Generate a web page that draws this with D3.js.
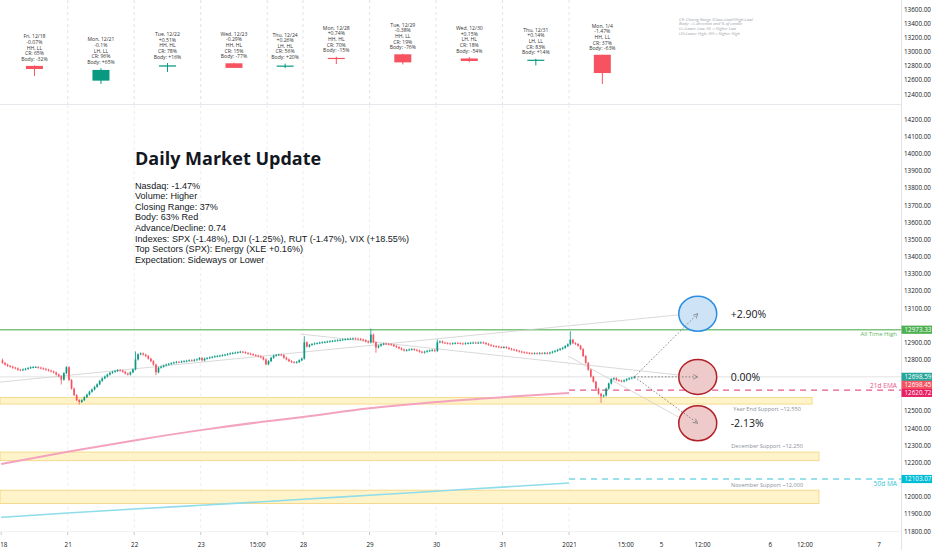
<!DOCTYPE html>
<html><head><meta charset="utf-8">
<script src="https://cdn.jsdelivr.net/npm/d3@7"></script>
<style>
body{margin:0;background:#fff;overflow:hidden}
svg{display:block;font-family:'Open Sans','DejaVu Sans',sans-serif}
</style>
</head><body>
<svg id="c" width="932" height="550"></svg>
<script>
// ---------------- DATA ----------------
const dayNames   = ["Fri, 12/18","Mon, 12/21","Tue, 12/22","Wed, 12/23","Thu, 12/24","Mon, 12/28","Tue, 12/29","Wed, 12/30","Thu, 12/31","Mon, 1/4"];
const dayPct     = ["-0.07%","-0.1%","+0.51%","-0.29%","+0.26%","+0.74%","-0.38%","+0.15%","+0.14%","-1.47%"];
const dayHL      = ["HH, LL","LH, LL","HH, HL","HH, HL","LH, HL","HH, HL","HH, LL","LH, HL","LH, LL","HH, LL"];
const dayCR      = ["65%","96%","78%","15%","56%","70%","19%","18%","83%","37%"];
const dayBody    = ["-32%","+65%","+16%","-77%","+20%","-15%","-76%","-54%","+14%","-63%"];
const dayOpen    = [12800,12590,12790,12837,12791,12914,12965,12906,12877,12958.5];
const dayHigh    = [12808,12766,12841,12845,12833,12930,12973.33,12924,12902,12958.7];
const dayLow     = [12658,12543,12714,12771,12767,12827,12821,12857,12807,12543.2];
const dayClose   = [12755.6,12742.5,12807.9,12771.6,12804.7,12899.4,12850.2,12870,12888.3,12698.45];
const dayStart   = [0,26,52,78,104,118,144,170,196,222];
const dayBars    = [26,26,26,26,14,26,26,26,26,26];

// 15-minute closes, one array per session
const c1218 = [12780,12770,12762,12758,12752,12748,12740,12738,12742,12745,12750,12754,12756,12756,12752,12748,12745,12740,12735,12730,12724,12712,12702,12682,12720,12755];
const c1221 = [12680,12630,12592,12563,12552,12563,12580,12595,12612,12625,12640,12655,12675,12690,12700,12712,12722,12728,12732,12738,12735,12728,12718,12712,12725,12742];
const c1222 = [12800,12830,12835,12828,12820,12805,12790,12770,12725,12752,12758,12765,12770,12774,12778,12782,12786,12785,12788,12790,12792,12795,12793,12798,12800,12808];
const c1223 = [12795,12805,12808,12812,12815,12818,12820,12822,12825,12828,12832,12835,12838,12840,12842,12845,12842,12838,12834,12830,12826,12822,12818,12812,12800,12772];
const c1224 = [12790,12810,12822,12826,12828,12825,12810,12800,12790,12785,12782,12785,12795,12805];
const c1228 = [12900,12875,12885,12890,12893,12895,12898,12900,12902,12904,12906,12908,12910,12912,12914,12916,12918,12920,12921,12922,12921,12920,12916,12912,12905,12899];
const c1229 = [12945,12900,12870,12880,12888,12892,12890,12888,12885,12878,12872,12865,12858,12852,12855,12858,12860,12856,12852,12845,12840,12845,12850,12852,12855,12850];
const c1230 = [12900,12905,12898,12895,12893,12892,12894,12896,12895,12893,12892,12894,12895,12897,12898,12896,12898,12899,12896,12890,12885,12880,12877,12875,12872,12870];
const c1231 = [12872,12868,12862,12858,12855,12850,12846,12842,12840,12838,12836,12835,12836,12835,12837,12836,12838,12835,12840,12845,12850,12856,12862,12868,12878,12888];
const c0104 = [12915,12895,12890,12880,12860,12820,12780,12740,12700,12670,12630,12600,12585,12590,12630,12660,12685,12690,12680,12676,12672,12678,12685,12690,12694,12698.59];
const firstOpen = 12795;
const wickHigh = {0:12800, 52:12841, 118:12930, 144:12973.33, 170:12910, 222:12958.7};
const wickLow  = {23:12660, 30:12543, 60:12714, 146:12845, 234:12553};

// moving averages sampled at each session start (bar index) up to 2021 open
const maIdx   = [0,26,52,78,104,118,144,170,196,222];
const ema21   = [12190,12262,12328,12388,12440,12465,12515,12552,12580,12605];
const ma50    = [11880,11905,11928,11950,11972,11985,12008,12032,12056,12080];
const ema21Last = 12620.72, ma50Last = 12103.07, athValue = 12973.33;

// time-axis labels (bar index -> label)
const timeTickIdx    = [0.8,26,52,78,100,118,144,170,196,222,244,258,274,300.5,314,343];
const timeTickLabels = ["18","21","22","23","15:00","28","29","30","31","2021","15:00","5","12:00","6","12:00","7"];

// support zones
const zoneLow   = [12540,12210,11960];
const zoneHigh  = [12579,12260,12038];
const zoneEnd   = [317,319.7,319.7];
const zoneLabel = ["Year End Support ~12,550","December Support ~12,250","November Support ~12,000"];

// scenarios
const scenPct = [0.0290, 0, -0.0213];
const scenLbl = ["+2.90%","0.00%","-2.13%"];
const scenIdx = 272.3;

const titleText = "Daily Market Update";
const bodyLines = ["Nasdaq: -1.47%","Volume: Higher","Closing Range: 37%","Body: 63% Red","Advance/Decline: 0.74",
  "Indexes: SPX (-1.48%), DJI (-1.25%), RUT (-1.47%), VIX (+18.55%)","Top Sectors (SPX): Energy (XLE +0.16%)","Expectation: Sideways or Lower"];
const legendLines = ["CR: Closing Range (Close-Low)/(High-Low)","Body: +/- direction and % of candle","LL=Lower Low, HL = Higher Low","LH=Lower High, HH = Higher High"];

// ---------------- DRAW ----------------
const W = 932, H = 550, AX = 901;
const UP = "#089981", DN = "#f7525f";
const svg = d3.select("#c");
const closes = [].concat(c1218,c1221,c1222,c1223,c1224,c1228,c1229,c1230,c1231,c0104);
const bars = closes.map((c,i)=>{
  const o = i===0 ? firstOpen : closes[i-1];
  return {i, o, c, h: wickHigh[i]!==undefined ? wickHigh[i] : Math.max(o,c), l: wickLow[i]!==undefined ? wickLow[i] : Math.min(o,c)};
});

const x = d3.scaleLinear().domain([0,343]).range([1.2, 1.2+2.558*343]);
const yM = d3.scaleLinear().domain([11800,14200]).range([531,119.3]);
const yT = d3.scaleLinear().domain([12400,13600]).range([94,9.7]);
const bw = x(1)-x(0);

const defs = svg.append("defs");
defs.append("clipPath").attr("id","cm").append("rect").attr("x",0).attr("y",105).attr("width",AX).attr("height",426);
defs.append("clipPath").attr("id","ct").append("rect").attr("x",0).attr("y",0).attr("width",AX).attr("height",104);
defs.append("marker").attr("id","arr").attr("viewBox","0 0 8 8").attr("refX",7).attr("refY",4)
  .attr("markerWidth",6).attr("markerHeight",6).attr("orient","auto")
  .append("path").attr("d","M0,0.5 L7,4 L0,7.5").attr("fill","none").attr("stroke","#777").attr("stroke-width",1);

svg.append("line").attr("x1",0).attr("x2",AX).attr("y1",104.5).attr("y2",104.5).attr("stroke","#e6e8ee");
svg.append("line").attr("x1",AX+0.5).attr("x2",AX+0.5).attr("y1",0).attr("y2",H).attr("stroke","#e0e3eb");
svg.append("line").attr("x1",0).attr("x2",AX).attr("y1",531.5).attr("y2",531.5).attr("stroke","#f0f2f5");

const topG = svg.append("g").attr("clip-path","url(#ct)");
const mainG = svg.append("g").attr("clip-path","url(#cm)");
dayStart.slice(1).forEach(s=>{
  topG.append("line").attr("x1",x(s)).attr("x2",x(s)).attr("y1",0).attr("y2",104).attr("stroke","#dcdcdc").attr("stroke-dasharray","3,3").attr("stroke-width",0.8);
  mainG.append("line").attr("x1",x(s)).attr("x2",x(s)).attr("y1",105).attr("y2",531).attr("stroke","#e8e8e8").attr("stroke-dasharray","3,3").attr("stroke-width",0.8);
});

// ---- top panel daily candles ----
dayNames.forEach((n,k)=>{
  const cx = x(dayStart[k] + dayBars[k]/2);
  const col = dayClose[k] >= dayOpen[k] ? UP : DN;
  topG.append("line").attr("x1",cx).attr("x2",cx).attr("y1",yT(dayHigh[k])).attr("y2",yT(dayLow[k])).attr("stroke",col).attr("stroke-width",1);
  const yb = yT(Math.max(dayOpen[k],dayClose[k])), ye = yT(Math.min(dayOpen[k],dayClose[k]));
  topG.append("rect").attr("x",cx-8.5).attr("y",yb).attr("width",17).attr("height",Math.max(1.2,ye-yb)).attr("fill",col);
  const lines = [n, dayPct[k], dayHL[k], "CR: "+dayCR[k], "Body: "+dayBody[k]];
  const base = yT(dayHigh[k]) - 4.5;
  lines.forEach((t,j)=>{
    topG.append("text").attr("x",cx).attr("y",base-(4-j)*5.6).attr("text-anchor","middle")
      .attr("font-size",5.1).attr("fill","#333").text(t);
  });
});
legendLines.forEach((t,j)=>{
  svg.append("text").attr("x",679).attr("y",20.5+j*4.7).attr("font-size",4.1).attr("font-style","italic")
    .attr("fill","#9aa0a8").text(t);
});

// ---- main panel ----
zoneLow.forEach((lo,k)=>{
  mainG.append("rect").attr("x",0).attr("y",yM(zoneHigh[k])).attr("width",x(zoneEnd[k])).attr("height",yM(lo)-yM(zoneHigh[k]))
    .attr("fill","#fff4c9").attr("stroke","#f3d27a").attr("stroke-width",0.8);
});
mainG.append("text").attr("x",x(299.4)).attr("y",yM(zoneLow[0])+7).attr("text-anchor","middle").attr("font-size",5.6).attr("fill","#8a8f98").text(zoneLabel[0]);
mainG.append("text").attr("x",x(299.4)).attr("y",yM(zoneHigh[1])-4).attr("text-anchor","middle").attr("font-size",5.6).attr("fill","#8a8f98").text(zoneLabel[1]);
mainG.append("text").attr("x",x(299.4)).attr("y",yM(zoneHigh[2])-3).attr("text-anchor","middle").attr("font-size",5.6).attr("fill","#8a8f98").text(zoneLabel[2]);

mainG.append("line").attr("x1",0).attr("x2",AX).attr("y1",yM(athValue)).attr("y2",yM(athValue)).attr("stroke","#7cc47f").attr("stroke-width",1.3);
mainG.append("text").attr("x",897).attr("y",yM(athValue)+6).attr("text-anchor","end").attr("font-size",6).attr("fill","#5cb85f").text("All Time High");

const last = closes[closes.length-1];
mainG.append("line").attr("x1",0).attr("x2",AX).attr("y1",yM(last)).attr("y2",yM(last)).attr("stroke","#dcdcdc").attr("stroke-width",0.8);

const lineGen = d3.line().x(d=>x(d[0])).y(d=>yM(d[1])).curve(d3.curveMonotoneX);
mainG.append("path").attr("d",lineGen(maIdx.map((v,i)=>[v,ema21[i]]))).attr("fill","none").attr("stroke","#f3a3bd").attr("stroke-width",2);
mainG.append("path").attr("d",lineGen(maIdx.map((v,i)=>[v,ma50[i]]))).attr("fill","none").attr("stroke","#8fdcea").attr("stroke-width",1.6);
mainG.append("line").attr("x1",x(222)).attr("x2",AX).attr("y1",yM(ema21Last)).attr("y2",yM(ema21Last)).attr("stroke","#e8578a").attr("stroke-width",1.2).attr("stroke-dasharray","6,5");
mainG.append("line").attr("x1",x(222)).attr("x2",AX).attr("y1",yM(ma50Last)).attr("y2",yM(ma50Last)).attr("stroke","#33c3d6").attr("stroke-width",1.2).attr("stroke-dasharray","6,5");
mainG.append("text").attr("x",897).attr("y",yM(ema21Last)-2).attr("text-anchor","end").attr("font-size",6.6).attr("fill","#e8578a").text("21d EMA");
mainG.append("text").attr("x",897).attr("y",yM(ma50Last)+7).attr("text-anchor","end").attr("font-size",6.6).attr("fill","#33c3d6").text("50d MA");

const tl = [[-0.5,12668,265,13060],[117,12948,272,12698],[221.6,12820,264.6,12466]];
tl.forEach(t=>mainG.append("line").attr("x1",x(t[0])).attr("y1",yM(t[1])).attr("x2",x(t[2])).attr("y2",yM(t[3]))
  .attr("stroke","#cfcfcf").attr("stroke-width",0.8));

const cg = mainG.append("g");
bars.forEach(b=>{
  const cx = x(b.i+0.5), col = b.c>=b.o?UP:DN;
  cg.append("line").attr("x1",cx).attr("x2",cx).attr("y1",yM(b.h)-1).attr("y2",yM(b.l)+1).attr("stroke",col).attr("stroke-width",0.8);
  const y1 = yM(Math.max(b.o,b.c)), y2 = yM(Math.min(b.o,b.c));
  cg.append("rect").attr("x",cx-bw*0.33).attr("y",y1).attr("width",bw*0.66).attr("height",Math.max(0.8,y2-y1)).attr("fill",col);
});

const x0 = x(closes.length-0.5), y0 = yM(last);
scenPct.forEach((p,k)=>{
  const v = dayClose[9]*(1+p);
  const cx = x(scenIdx), cy = yM(v);
  mainG.append("ellipse").attr("cx",cx).attr("cy",cy).attr("rx",19).attr("ry",17.5)
    .attr("fill",k===0?"#cfe3f7":"#efcaca").attr("stroke",k===0?"#2d8fe3":"#b22026").attr("stroke-width",1.5);
  mainG.append("line").attr("x1",x0).attr("y1",y0).attr("x2",cx).attr("y2",cy)
    .attr("stroke","#7a7a7a").attr("stroke-width",0.9).attr("stroke-dasharray","1.6,1.8").attr("marker-end","url(#arr)");
  mainG.append("text").attr("x",cx+33).attr("y",cy+3.8).attr("font-size",10.5).attr("fill","#131722").text(scenLbl[k]);
});

svg.append("text").attr("x",135).attr("y",164.5).attr("font-size",18).attr("font-weight","bold").attr("fill","#131722").text(titleText);
bodyLines.forEach((t,j)=>svg.append("text").attr("x",135).attr("y",188.5+j*10.6).attr("font-size",9.1)
  .attr("font-family","'Liberation Sans',Arial,sans-serif").attr("fill","#131722").text(t));

// ---- price tags (computed first so hidden axis labels can be skipped) ----
const fmt = d3.format(".2f");
const tags = [[athValue,"#4caf50"],[last,"#26a69a"],[dayClose[9],"#f7525f"],[ema21Last,"#e91e63"],[ma50Last,"#00bcd4"]];
let prevY = -100;
const tagPos = tags.map(t=>({v:t[0],c:t[1],y:yM(t[0])})).sort((a,b)=>a.y-b.y).map(t=>{
  const yy = Math.max(t.y, prevY+8); prevY = yy; return Object.assign(t,{yy});
});

// ---- price axes ----
const mainTicks = d3.range(11800,14201,100).filter(v=>tagPos.every(t=>Math.abs(yM(v)-t.yy)>7));
const axM = svg.append("g").attr("transform",`translate(${AX},0)`)
  .call(d3.axisRight(yM).tickValues(mainTicks).tickSize(0).tickPadding(3).tickFormat(fmt));
const axT = svg.append("g").attr("transform",`translate(${AX},0)`)
  .call(d3.axisRight(yT).tickValues(d3.range(12400,13601,200)).tickSize(0).tickPadding(3).tickFormat(fmt));
[axM,axT].forEach(a=>{a.select(".domain").remove(); a.selectAll("text").attr("font-size",6.3).attr("fill","#131722").attr("font-family","'Open Sans',sans-serif");});

tagPos.forEach(t=>{
  svg.append("rect").attr("x",AX+0.5).attr("y",t.yy-4.1).attr("width",W-AX).attr("height",8.2).attr("fill",t.c);
  svg.append("text").attr("x",AX+3.5).attr("y",t.yy+2.2).attr("font-size",6.3).attr("fill","#fff").text(fmt(t.v));
});

// ---- time axis ----
const axB = svg.append("g").attr("transform","translate(0,532)")
  .call(d3.axisBottom(x).tickValues(timeTickIdx).tickSize(0).tickPadding(11).tickFormat((d,i)=>timeTickLabels[i]));
axB.select(".domain").remove();
axB.selectAll("text").attr("font-size",6.3).attr("fill","#131722").attr("font-family","'Open Sans',sans-serif");
dayStart.forEach(s=>svg.append("line").attr("x1",x(s)).attr("x2",x(s)).attr("y1",532).attr("y2",535).attr("stroke","#c8c8c8"));
</script>
</body></html>
